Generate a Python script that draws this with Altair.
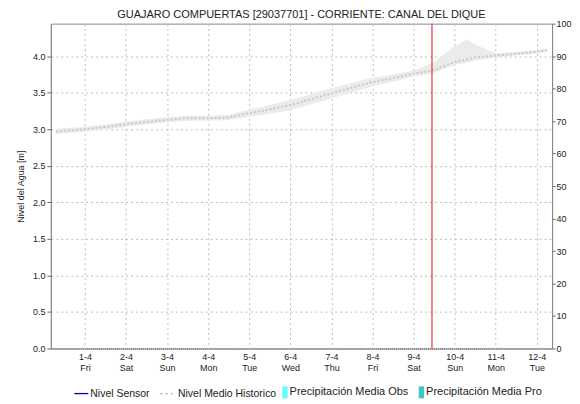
import altair as alt
import pandas as pd

# ---- data ----
times = ["2022-03-31T07:00:00", "2022-04-01T00:00:00", "2022-04-01T12:00:00", "2022-04-02T00:00:00",
         "2022-04-02T12:00:00", "2022-04-03T00:00:00", "2022-04-03T12:00:00", "2022-04-04T00:00:00",
         "2022-04-04T12:00:00", "2022-04-05T00:00:00", "2022-04-05T12:00:00", "2022-04-06T00:00:00",
         "2022-04-06T12:00:00", "2022-04-07T00:00:00", "2022-04-07T12:00:00", "2022-04-08T00:00:00",
         "2022-04-08T12:00:00", "2022-04-09T00:00:00", "2022-04-09T10:30:00", "2022-04-10T00:00:00",
         "2022-04-10T07:00:00", "2022-04-10T12:00:00", "2022-04-11T00:00:00", "2022-04-11T12:00:00",
         "2022-04-12T00:00:00", "2022-04-12T06:00:00"]
hist_mean = [2.97, 3.00, 3.03, 3.07, 3.10, 3.13, 3.15, 3.15, 3.16, 3.22, 3.27, 3.33, 3.41, 3.49,
             3.57, 3.645, 3.70, 3.76, 3.80, 3.92, 3.95, 3.98, 4.01, 4.03, 4.06, 4.08]
hist_low = [2.935, 2.965, 2.995, 3.035, 3.065, 3.095, 3.115, 3.115, 3.125, 3.17, 3.21, 3.26, 3.34,
            3.42, 3.505, 3.585, 3.65, 3.72, 3.76, 3.88, 3.91, 3.94, 3.98, 4.01, 4.04, 4.06]
hist_high = [3.005, 3.035, 3.065, 3.105, 3.135, 3.165, 3.185, 3.185, 3.195, 3.27, 3.33, 3.40, 3.48,
             3.56, 3.635, 3.705, 3.75, 3.80, 3.90, 4.13, 4.23, 4.16, 4.04, 4.06, 4.08, 4.10]
now_time = ["2022-04-09T10:45:00"]

precip_days = ["2022-04-01T00:00:00", "2022-04-02T00:00:00", "2022-04-03T00:00:00", "2022-04-04T00:00:00",
               "2022-04-05T00:00:00", "2022-04-06T00:00:00", "2022-04-07T00:00:00", "2022-04-08T00:00:00",
               "2022-04-09T00:00:00", "2022-04-10T00:00:00", "2022-04-11T00:00:00", "2022-04-12T00:00:00"]
precip_obs = [0, 0, 0, 0, 0, 0, 0, 0, 0, 0, 0, 0]

line_series = ["Nivel Sensor", "Nivel Medio Historico"]
line_colors = ["#0000cc", "#c4c4c4"]
line_shapes = ["M-1,0L1,0", "M-1.3,0L-0.9,0M-0.55,0L-0.15,0M0.2,0L0.55,0"]
bar_series = ["Precipitación Media Obs", "Precipitación Media Pro"]
bar_colors = ["#66ffff", "#40c4c4"]

FONT = "Liberation Sans"
YMAX = 4.0 / 0.9

hist = pd.DataFrame({"t": times, "mean": hist_mean, "lo": hist_low, "hi": hist_high})
now_df = pd.DataFrame({"t": now_time})
precip = pd.DataFrame({"t": precip_days, "p": precip_obs})
leg_lines_df = pd.DataFrame({"lseries": line_series, "t": [times[5]] * 2, "y": [-1.0] * 2})
leg_bars_df = pd.DataFrame({"bseries": bar_series, "t": [times[5]] * 2, "y": [-1.0] * 2})

xdom = [alt.DateTime(year=2022, month=3, date=31, hours=7),
        alt.DateTime(year=2022, month=4, date=12, hours=6)]

xaxis = alt.Axis(
    title=None, grid=True, gridDash=[2, 3], gridColor="#bdbdbd",
    tickCount={"interval": "day", "step": 1},
    labelExpr="[timeFormat(datum.value, '%-d-%-m'), timeFormat(datum.value, '%a')]",
    labelFont=FONT, labelFontSize=9, labelColor="#222", labelPadding=4, labelLineHeight=11,
    ticks=False, domainColor="#555", domainDash=[1, 1], labelAngle=0,
)
x_enc = alt.X("t:T", scale=alt.Scale(domain=xdom), axis=xaxis)

yaxis = alt.Axis(
    title="Nivel del Agua [m]", titleFont=FONT, titleFontSize=9, titleFontWeight="normal",
    titleColor="#222", titlePadding=7,
    values=[0, 0.5, 1.0, 1.5, 2.0, 2.5, 3.0, 3.5, 4.0], format=".1f",
    grid=True, gridDash=[2, 3], gridColor="#bdbdbd",
    labelFont=FONT, labelFontSize=9, labelColor="#222", labelPadding=2,
    tickSize=4, tickColor="#666", domainColor="#888",
)
yscale = alt.Scale(domain=[0, YMAX], nice=False, zero=False)

band = alt.Chart(hist).mark_area(color="#ebebeb", opacity=1).encode(
    x=x_enc,
    y=alt.Y("lo:Q", scale=yscale, axis=yaxis),
    y2="hi:Q",
)
mean_line = alt.Chart(hist).mark_line(color="#c8c8c8", strokeWidth=2, strokeDash=[2, 2]).encode(
    x="t:T", y="mean:Q"
)

leg1 = alt.Legend(
    title=None, orient="none", legendX=22.6, legendY=363, direction="horizontal", columns=2,
    symbolSize=196, symbolStrokeWidth=1.3, labelFont=FONT, labelFontSize=10.5, labelColor="#222",
    labelOffset=1, columnPadding=7, labelLimit=0, padding=0,
)
leg2 = alt.Legend(
    title=None, orient="none", legendX=225.6, legendY=364, direction="horizontal", columns=2,
    symbolSize=144, symbolStrokeWidth=0, labelFont=FONT, labelFontSize=11, labelColor="#222",
    labelOffset=2, columnPadding=3, labelLimit=0, padding=0,
)
leg_lines = alt.Chart(leg_lines_df).mark_point(clip=True, opacity=1).encode(
    x="t:T",
    y="y:Q",
    stroke=alt.Stroke("lseries:N", scale=alt.Scale(domain=line_series, range=line_colors), legend=leg1),
    shape=alt.Shape("lseries:N", scale=alt.Scale(domain=line_series, range=line_shapes), legend=leg1),
)
leg_bars = alt.Chart(leg_bars_df).mark_point(
    clip=True, opacity=1, filled=True, shape="M0.1,-1L1,-1L1,1L0.1,1Z"
).encode(
    x="t:T",
    y="y:Q",
    fill=alt.Fill("bseries:N", scale=alt.Scale(domain=bar_series, range=bar_colors), legend=leg2),
)

left = alt.layer(band, mean_line, leg_lines, leg_bars)

precip_bars = alt.Chart(precip).mark_bar(color="#66ffff").encode(
    x="t:T",
    y=alt.Y("p:Q", scale=alt.Scale(domain=[0, 100], nice=False),
            axis=alt.Axis(title=None, orient="right", values=list(range(0, 101, 10)), grid=False,
                          labelFont=FONT, labelFontSize=9, labelColor="#222", labelPadding=1,
                          tickSize=3, tickColor="#666", domainColor="#888")),
)

now_rule = alt.Chart(now_df).mark_rule(color="#e8393b", strokeWidth=1.2, opacity=1).encode(
    x="t:T"
)

chart = alt.layer(left, precip_bars, now_rule).resolve_scale(y="independent").properties(
    width=503, height=326,
    title=alt.TitleParams("GUAJARO COMPUERTAS [29037701] - CORRIENTE: CANAL DEL DIQUE",
                          font=FONT, fontSize=11, fontWeight="normal", color="#222",
                          anchor="middle", offset=0, frame="group"),
    autosize=alt.AutoSizeParams(type="none"),
    padding={"left": 43, "top": 15, "right": 20, "bottom": 50},
).configure_view(stroke="#888", strokeWidth=1)

chart.save("out.html", embed_options={"renderer": "svg", "actions": False})
